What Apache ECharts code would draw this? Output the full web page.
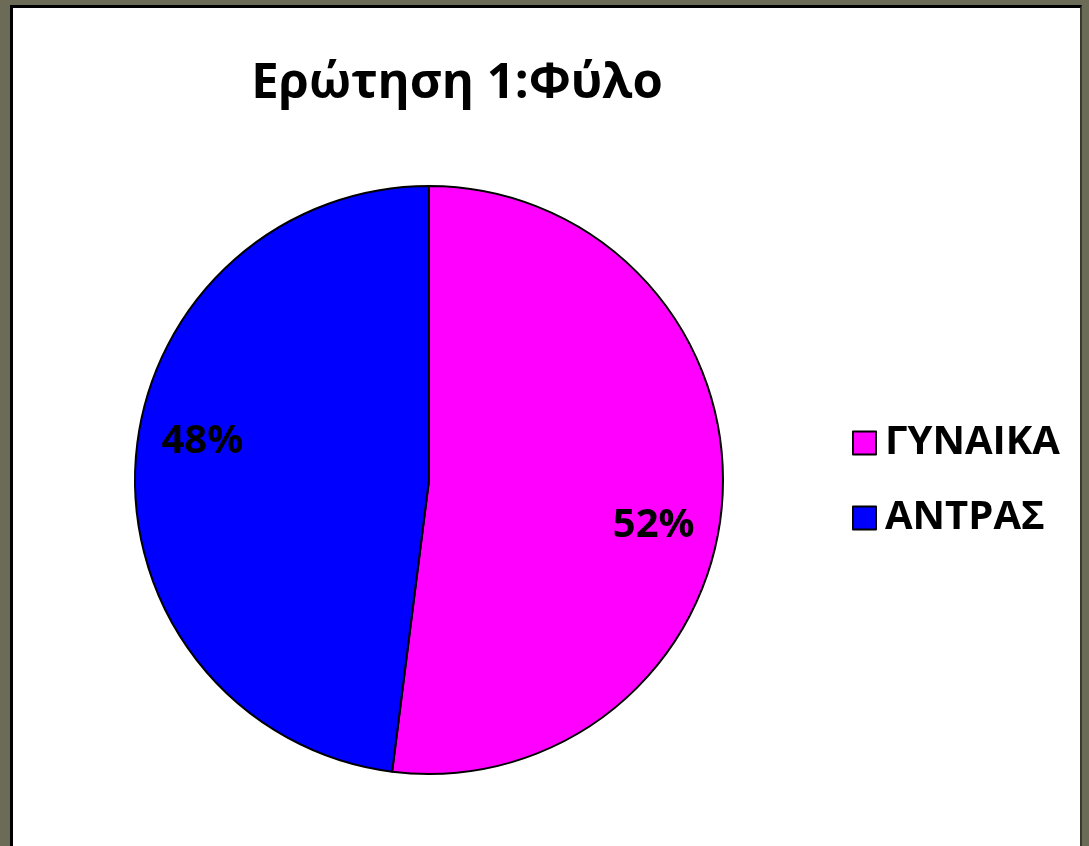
<!DOCTYPE html>
<html>
<head>
<meta charset="utf-8">
<script src="https://cdn.jsdelivr.net/npm/echarts@6/dist/echarts.min.js"></script>
<style>
  html, body { margin: 0; padding: 0; background: #6b6b57; width: 1089px; height: 846px; overflow: hidden; }
  #panel {
    position: absolute; left: 10px; top: 5px; width: 1072px; height: 850px;
    background: #fff; border-left: 3px solid #000; border-top: 3px solid #000;
    border-right: 2px solid #3a3a30; box-sizing: border-box;
  }
  #chart { width: 100%; height: 100%; }
</style>
</head>
<body>
<div id="panel"><div id="chart"></div></div>
<script>
const titleText = 'Ερώτηση 1:Φύλο';
const categories = ['ΓΥΝΑΙΚΑ', 'ΑΝΤΡΑΣ'];
const values = [52, 48];
const colors = ['#ff00ff', '#0000ff'];

// nudge labels to where the original sits them
const labelOffsets = [[75, 36], [-77, -29]];

const chart = echarts.init(document.getElementById('chart'));
chart.setOption({
  title: {
    text: titleText,
    left: 439,
    top: 47,
    textAlign: 'center',
    textStyle: { fontFamily: 'Open Sans', fontWeight: 'bold', fontSize: 49, color: '#000' }
  },
  legend: {
    orient: 'vertical',
    left: 834,
    top: 410,
    itemWidth: 23,
    itemHeight: 23,
    itemGap: 35,
    icon: 'rect',
    itemStyle: { borderColor: '#000', borderWidth: 2 },
    textStyle: { fontFamily: 'Open Sans', fontWeight: 'bold', fontSize: 40, lineHeight: 40, color: '#000', padding: [0, 0, 0, 4] },
    data: categories
  },
  series: [{
    type: 'pie',
    center: [416, 472],
    radius: 294,
    startAngle: 90,
    clockwise: true,
    silent: true,
    itemStyle: { borderColor: '#000', borderWidth: 2 },
    label: {
      position: 'inside',
      formatter: '{d}%',
      fontFamily: 'Open Sans',
      fontWeight: 'bold',
      fontSize: 40,
      color: '#000'
    },
    labelLine: { show: false },
    data: categories.map((name, i) => ({
      name,
      value: values[i],
      itemStyle: { color: colors[i] },
      label: { offset: labelOffsets[i] }
    }))
  }]
});
</script>
</body>
</html>
